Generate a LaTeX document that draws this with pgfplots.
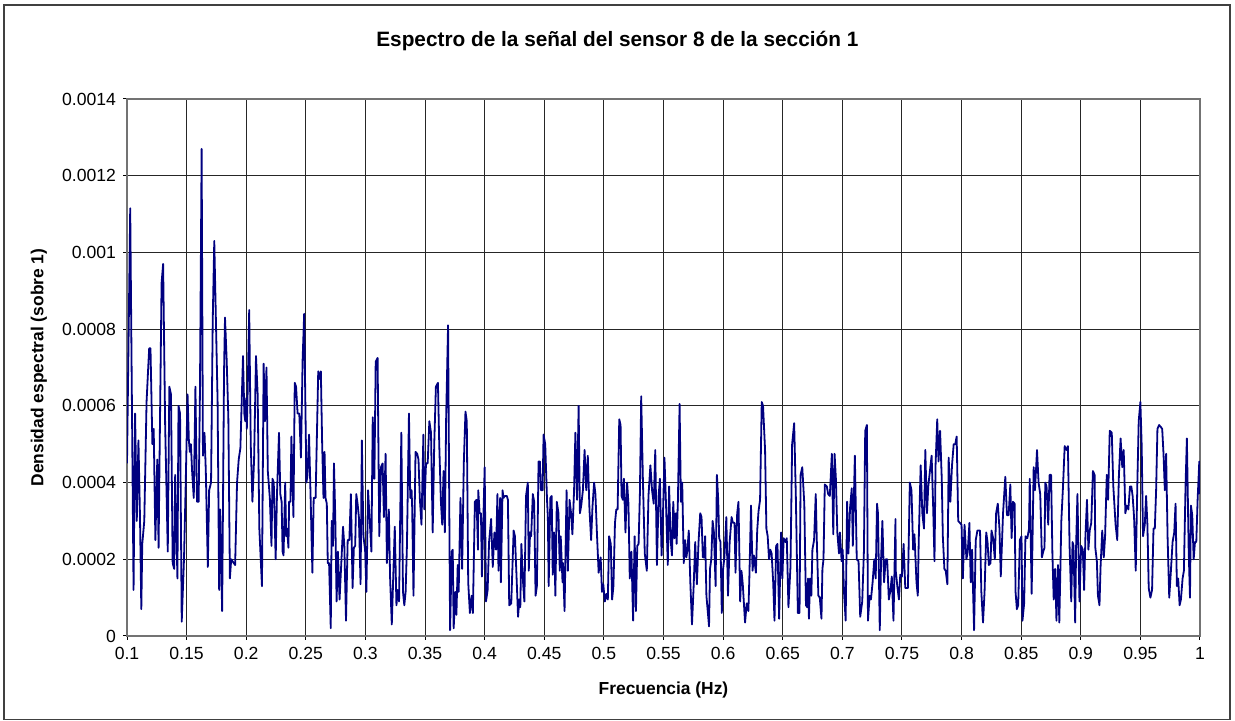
\documentclass[border=0pt]{standalone}
\usepackage{fontspec}
\setmainfont{Liberation Sans}
\usepackage{pgfplots}
\pgfplotsset{compat=1.18}
\definecolor{spec}{RGB}{0,0,128}

\begin{document}
\begin{tikzpicture}
% fixed bounding box, 1px = 0.5pt
\path (-63.5pt,-42pt) rectangle (554pt,318pt);
\draw[black!75, line width=0.8pt] (-61.5pt,-41.8pt) rectangle (551.5pt,315.6pt);
\begin{axis}[
  at={(0pt,0pt)}, anchor=south west,
  scale only axis, width=536.5pt, height=268.5pt,
  xmin=0.1, xmax=1, ymin=0, ymax=0.0014,
  xtick={0.1,0.15,...,1.0}, ytick={0,0.0002,...,0.0014},
  scaled x ticks=false, scaled y ticks=false,
  xticklabel style={/pgf/number format/.cd, fixed, precision=2, assume math mode=true},
  yticklabel style={/pgf/number format/.cd, fixed, precision=4, assume math mode=true},
  tick label style={font=\fontsize{8.8}{10}\selectfont},
  tick align=outside, tick pos=left, major tick length=2pt,
  tick style={black, line width=0.5pt},
  grid=major, grid style={black!85, line width=0.5pt},
  axis line style={black!55, line width=0.6pt},
  xlabel={\bfseries Frecuencia (Hz)}, ylabel={\bfseries Densidad espectral (sobre 1)},
  label style={font=\fontsize{8.7}{10}\selectfont},
  xlabel style={at={(axis description cs:0.5,0)}, anchor=center, yshift=-27pt},
  ylabel style={at={(axis description cs:0,0.5)}, anchor=center, yshift=44pt},
  title={\bfseries Espectro de la señal del sensor 8 de la sección 1},
  title style={font=\fontsize{10.4}{12}\selectfont, at={(axis description cs:0.457,1)}, anchor=center, yshift=23pt},
]
\addplot[spec, line width=0.9pt, line join=round] table {
0.1000 4.5e-4
0.1027 11.15e-4
0.1055 1.2e-4
0.1068 5.8e-4
0.1082 3.0e-4
0.1096 5.1e-4
0.1109 3.1e-4
0.1120 0.7e-4
0.1128 2.4e-4
0.1145 3.0e-4
0.1164 6.1e-4
0.1178 7.0e-4
0.1186 7.5e-4
0.1197 7.5e-4
0.1213 5.0e-4
0.1224 5.4e-4
0.1238 2.5e-4
0.1254 4.6e-4
0.1265 2.3e-4
0.1273 4.6e-4
0.1290 9.2e-4
0.1303 9.7e-4
0.1320 5.5e-4
0.1342 2.2e-4
0.1355 6.5e-4
0.1369 6.3e-4
0.1383 1.9e-4
0.1396 1.75e-4
0.1404 4.2e-4
0.1423 1.5e-4
0.1432 6.0e-4
0.1445 5.8e-4
0.1459 0.37e-4
0.1478 2.0e-4
0.1492 3.9e-4
0.1508 6.3e-4
0.1519 5.1e-4
0.1527 4.8e-4
0.1536 5.0e-4
0.1546 4.3e-4
0.1560 3.6e-4
0.1574 6.5e-4
0.1587 3.5e-4
0.1601 3.5e-4
0.1612 6.4e-4
0.1626 12.7e-4
0.1637 4.7e-4
0.1650 5.3e-4
0.1661 4.3e-4
0.1678 1.8e-4
0.1689 3.8e-4
0.1705 4.0e-4
0.1719 8.2e-4
0.1732 10.3e-4
0.1760 6.1e-4
0.1773 1.2e-4
0.1781 3.3e-4
0.1798 0.65e-4
0.1814 6.9e-4
0.1822 8.3e-4
0.1836 7.2e-4
0.1850 5.7e-4
0.1863 1.5e-4
0.1874 2.0e-4
0.1907 1.85e-4
0.1923 4.0e-4
0.1937 4.6e-4
0.1951 4.9e-4
0.1973 7.3e-4
0.1984 5.8e-4
0.1992 5.6e-4
0.2000 6.2e-4
0.2005 5.4e-4
0.2011 6.2e-4
0.2025 8.5e-4
0.2038 5.0e-4
0.2052 3.5e-4
0.2066 4.6e-4
0.2082 7.3e-4
0.2096 6.3e-4
0.2110 2.8e-4
0.2132 1.3e-4
0.2146 7.1e-4
0.2157 5.6e-4
0.2170 7.0e-4
0.2181 4.3e-4
0.2198 3.6e-4
0.2212 2.35e-4
0.2220 4.1e-4
0.2231 4.0e-4
0.2247 2.0e-4
0.2258 3.7e-4
0.2275 5.3e-4
0.2286 3.7e-4
0.2297 3.5e-4
0.2305 2.2e-4
0.2313 2.1e-4
0.2327 4.0e-4
0.2335 2.6e-4
0.2343 2.8e-4
0.2354 2.3e-4
0.2360 3.5e-4
0.2371 3.5e-4
0.2379 5.2e-4
0.2396 3.1e-4
0.2407 6.6e-4
0.2418 6.5e-4
0.2431 5.8e-4
0.2445 5.8e-4
0.2459 4.65e-4
0.2473 7.2e-4
0.2486 8.4e-4
0.2505 4.0e-4
0.2514 4.2e-4
0.2527 5.25e-4
0.2541 3.5e-4
0.2555 1.65e-4
0.2566 3.6e-4
0.2582 3.6e-4
0.2593 5.25e-4
0.2604 6.9e-4
0.2615 6.7e-4
0.2626 6.9e-4
0.2637 5.0e-4
0.2648 3.6e-4
0.2657 4.8e-4
0.2665 3.6e-4
0.2676 3.45e-4
0.2684 1.9e-4
0.2695 1.9e-4
0.2709 0.2e-4
0.2717 3.0e-4
0.2728 2.35e-4
0.2736 4.5e-4
0.2747 3.1e-4
0.2758 0.9e-4
0.2769 2.2e-4
0.2783 0.95e-4
0.2812 2.85e-4
0.2823 2.35e-4
0.2837 0.4e-4
0.2851 2.5e-4
0.2865 2.5e-4
0.2878 3.7e-4
0.2892 1.25e-4
0.2903 2.3e-4
0.2914 2.35e-4
0.2923 3.7e-4
0.2934 3.45e-4
0.2945 3.1e-4
0.2959 1.35e-4
0.2970 5.1e-4
0.2983 2.6e-4
0.2997 2.25e-4
0.3008 1.15e-4
0.3022 3.8e-4
0.3036 3.0e-4
0.3050 2.2e-4
0.3061 5.7e-4
0.3075 4.1e-4
0.3086 7.15e-4
0.3102 7.25e-4
0.3116 2.6e-4
0.3130 4.4e-4
0.3144 4.5e-4
0.3155 3.1e-4
0.3169 4.75e-4
0.3180 1.9e-4
0.3196 3.3e-4
0.3207 1.5e-4
0.3221 0.3e-4
0.3246 2.85e-4
0.3260 0.8e-4
0.3271 1.2e-4
0.3282 0.9e-4
0.3301 5.3e-4
0.3315 1.15e-4
0.3326 0.8e-4
0.3337 1.15e-4
0.3348 2.35e-4
0.3365 5.8e-4
0.3376 3.6e-4
0.3387 3.8e-4
0.3392 3.35e-4
0.3403 1.05e-4
0.3420 4.8e-4
0.3434 4.75e-4
0.3445 4.6e-4
0.3456 3.6e-4
0.3470 2.9e-4
0.3486 5.25e-4
0.3494 3.3e-4
0.3508 4.5e-4
0.3522 4.5e-4
0.3536 5.6e-4
0.3550 5.3e-4
0.3564 2.7e-4
0.3577 5.0e-4
0.3591 6.5e-4
0.3608 6.6e-4
0.3619 5.0e-4
0.3633 3.5e-4
0.3644 2.9e-4
0.3655 4.3e-4
0.3666 2.7e-4
0.3677 5.7e-4
0.3693 8.1e-4
0.3710 0.15e-4
0.3724 2.2e-4
0.3732 2.25e-4
0.3740 0.2e-4
0.3754 1.15e-4
0.3763 0.55e-4
0.3774 1.85e-4
0.3782 1.15e-4
0.3797 3.6e-4
0.3811 1.75e-4
0.3825 4.5e-4
0.3839 5.85e-4
0.3850 5.6e-4
0.3862 1.4e-4
0.3876 0.6e-4
0.3890 1.05e-4
0.3901 0.6e-4
0.3918 3.5e-4
0.3932 3.55e-4
0.3944 2.25e-4
0.3946 3.8e-4
0.3958 3.2e-4
0.3969 3.2e-4
0.3977 1.55e-4
0.4000 4.4e-4
0.4011 0.9e-4
0.4025 1.2e-4
0.4037 2.45e-4
0.4054 3.05e-4
0.4068 1.8e-4
0.4082 2.7e-4
0.4096 2.25e-4
0.4107 3.7e-4
0.4116 1.7e-4
0.4130 3.6e-4
0.4136 1.4e-4
0.4150 3.8e-4
0.4158 3.6e-4
0.4169 3.65e-4
0.4186 3.65e-4
0.4195 3.55e-4
0.4206 0.8e-4
0.4223 0.85e-4
0.4243 2.75e-4
0.4254 2.6e-4
0.4268 1.5e-4
0.4280 0.5e-4
0.4291 0.95e-4
0.4299 0.75e-4
0.4308 2.4e-4
0.4322 1.4e-4
0.4333 0.9e-4
0.4347 3.65e-4
0.4362 4.0e-4
0.4370 1.7e-4
0.4381 2.7e-4
0.4390 2.6e-4
0.4404 3.7e-4
0.4415 3.5e-4
0.4427 1.05e-4
0.4438 1.3e-4
0.4452 4.55e-4
0.4463 4.55e-4
0.4472 3.8e-4
0.4486 3.8e-4
0.4494 5.25e-4
0.4508 5.0e-4
0.4523 3.55e-4
0.4530 3.1e-4
0.4537 1.3e-4
0.4551 3.6e-4
0.4562 3.65e-4
0.4571 1.6e-4
0.4582 2.7e-4
0.4593 1.05e-4
0.4605 3.5e-4
0.4619 3.2e-4
0.4630 1.7e-4
0.4638 2.6e-4
0.4653 1.4e-4
0.4657 1.9e-4
0.4670 0.65e-4
0.4687 3.8e-4
0.4698 1.7e-4
0.4712 3.55e-4
0.4725 3.2e-4
0.4736 2.65e-4
0.4750 3.8e-4
0.4761 5.3e-4
0.4775 3.55e-4
0.4788 6.0e-4
0.4799 3.2e-4
0.4810 3.4e-4
0.4824 3.8e-4
0.4838 4.85e-4
0.4852 3.8e-4
0.4865 4.7e-4
0.4879 3.3e-4
0.4893 2.5e-4
0.4904 3.35e-4
0.4918 4.0e-4
0.4929 3.7e-4
0.4942 2.65e-4
0.4956 1.65e-4
0.4973 2.05e-4
0.4984 1.15e-4
0.4995 1.35e-4
0.5008 0.9e-4
0.5022 1.1e-4
0.5033 0.95e-4
0.5044 2.6e-4
0.5058 2.4e-4
0.5069 0.95e-4
0.5080 1.3e-4
0.5093 2.95e-4
0.5104 3.3e-4
0.5115 3.3e-4
0.5129 5.65e-4
0.5140 5.5e-4
0.5148 3.65e-4
0.5159 3.55e-4
0.5168 4.1e-4
0.5181 2.7e-4
0.5195 4.0e-4
0.5206 3.45e-4
0.5217 1.5e-4
0.5231 2.2e-4
0.5245 0.4e-4
0.5258 2.6e-4
0.5269 0.65e-4
0.5280 2.35e-4
0.5291 2.4e-4
0.5302 3.7e-4
0.5313 6.25e-4
0.5327 4.1e-4
0.5343 2.15e-4
0.5360 1.7e-4
0.5374 3.65e-4
0.5390 4.45e-4
0.5404 3.8e-4
0.5418 3.45e-4
0.5431 4.85e-4
0.5445 1.85e-4
0.5459 3.65e-4
0.5470 4.1e-4
0.5484 2.1e-4
0.5495 3.1e-4
0.5508 4.65e-4
0.5522 3.35e-4
0.5536 1.85e-4
0.5547 3.9e-4
0.5560 2.5e-4
0.5571 2.1e-4
0.5582 3.5e-4
0.5593 2.55e-4
0.5604 3.2e-4
0.5610 2.4e-4
0.5621 3.55e-4
0.5635 6.05e-4
0.5646 3.5e-4
0.5657 4.0e-4
0.5670 1.9e-4
0.5681 2.5e-4
0.5692 2.05e-4
0.5701 2.25e-4
0.5712 2.75e-4
0.5725 1.4e-4
0.5739 0.3e-4
0.5753 1.3e-4
0.5766 2.45e-4
0.5780 1.35e-4
0.5794 2.45e-4
0.5808 3.2e-4
0.5819 3.1e-4
0.5830 2.05e-4
0.5841 2.05e-4
0.5849 2.6e-4
0.5860 1.05e-4
0.5871 0.65e-4
0.5882 0.25e-4
0.5890 1.75e-4
0.5901 2.0e-4
0.5912 3.0e-4
0.5923 2.7e-4
0.5937 1.3e-4
0.5948 4.2e-4
0.5959 3.55e-4
0.5967 2.55e-4
0.5978 2.45e-4
0.5989 0.6e-4
0.6000 1.75e-4
0.6011 2.05e-4
0.6027 3.1e-4
0.6041 1.05e-4
0.6055 2.45e-4
0.6071 3.1e-4
0.6082 2.95e-4
0.6096 2.95e-4
0.6104 1.65e-4
0.6118 3.2e-4
0.6129 3.5e-4
0.6143 0.9e-4
0.6154 1.7e-4
0.6165 1.35e-4
0.6184 0.35e-4
0.6198 0.85e-4
0.6212 0.65e-4
0.6220 1.5e-4
0.6234 3.4e-4
0.6247 1.7e-4
0.6258 2.1e-4
0.6275 1.65e-4
0.6286 2.75e-4
0.6297 3.25e-4
0.6310 3.55e-4
0.6324 6.1e-4
0.6335 6.0e-4
0.6352 4.85e-4
0.6363 2.8e-4
0.6374 2.6e-4
0.6385 2.0e-4
0.6396 2.25e-4
0.6407 2.15e-4
0.6420 1.4e-4
0.6431 0.4e-4
0.6445 2.35e-4
0.6456 2.4e-4
0.6470 0.45e-4
0.6486 2.7e-4
0.6497 1.5e-4
0.6508 2.55e-4
0.6523 2.45e-4
0.6534 2.55e-4
0.6548 0.75e-4
0.6565 1.8e-4
0.6579 5.0e-4
0.6596 5.55e-4
0.6610 3.65e-4
0.6627 0.6e-4
0.6641 0.6e-4
0.6650 4.2e-4
0.6664 4.4e-4
0.6681 3.45e-4
0.6695 0.8e-4
0.6706 0.75e-4
0.6712 1.5e-4
0.6720 0.45e-4
0.6729 1.5e-4
0.6740 1.05e-4
0.6749 2.25e-4
0.6763 2.5e-4
0.6777 3.7e-4
0.6785 2.6e-4
0.6799 1.05e-4
0.6811 1.0e-4
0.6825 0.45e-4
0.6833 1.75e-4
0.6842 2.0e-4
0.6853 3.95e-4
0.6870 3.9e-4
0.6881 3.7e-4
0.6895 3.65e-4
0.6912 4.75e-4
0.6924 2.65e-4
0.6935 4.75e-4
0.6946 4.1e-4
0.6958 2.7e-4
0.6972 2.15e-4
0.6980 2.7e-4
0.6994 1.95e-4
0.7003 2.25e-4
0.7014 1.15e-4
0.7028 0.4e-4
0.7040 3.5e-4
0.7051 2.15e-4
0.7065 3.35e-4
0.7079 3.85e-4
0.7088 2.35e-4
0.7105 4.7e-4
0.7121 2.0e-4
0.7136 1.95e-4
0.7150 0.5e-4
0.7167 0.9e-4
0.7181 2.2e-4
0.7192 5.35e-4
0.7206 5.5e-4
0.7215 0.4e-4
0.7229 1.05e-4
0.7240 0.95e-4
0.7254 1.4e-4
0.7268 2.0e-4
0.7280 1.5e-4
0.7291 3.45e-4
0.7299 3.2e-4
0.7314 0.15e-4
0.7325 2.0e-4
0.7336 3.0e-4
0.7350 1.4e-4
0.7364 2.0e-4
0.7376 2.0e-4
0.7390 0.95e-4
0.7404 1.2e-4
0.7415 1.55e-4
0.7429 0.4e-4
0.7446 3.05e-4
0.7448 1.7e-4
0.7461 1.3e-4
0.7475 0.95e-4
0.7486 1.6e-4
0.7500 1.55e-4
0.7514 2.4e-4
0.7528 1.25e-4
0.7550 1.25e-4
0.7566 4.0e-4
0.7580 3.8e-4
0.7594 2.25e-4
0.7605 2.65e-4
0.7622 1.4e-4
0.7633 1.05e-4
0.7641 2.5e-4
0.7657 4.45e-4
0.7671 3.2e-4
0.7685 2.8e-4
0.7696 4.85e-4
0.7710 3.2e-4
0.7721 3.9e-4
0.7738 4.4e-4
0.7749 4.7e-4
0.7762 3.35e-4
0.7773 1.95e-4
0.7782 4.45e-4
0.7796 5.65e-4
0.7807 4.55e-4
0.7820 5.35e-4
0.7834 4.1e-4
0.7843 2.6e-4
0.7856 1.75e-4
0.7867 1.7e-4
0.7881 1.35e-4
0.7892 4.65e-4
0.7906 3.5e-4
0.7920 4.45e-4
0.7934 5.0e-4
0.7947 5.0e-4
0.7959 5.2e-4
0.7972 3.0e-4
0.7986 2.95e-4
0.8000 2.9e-4
0.8011 1.5e-4
0.8025 2.9e-4
0.8041 2.0e-4
0.8052 2.2e-4
0.8066 2.95e-4
0.8077 1.4e-4
0.8088 2.25e-4
0.8105 0.15e-4
0.8119 2.5e-4
0.8133 2.75e-4
0.8155 2.75e-4
0.8166 1.15e-4
0.8180 0.35e-4
0.8193 1.15e-4
0.8207 2.7e-4
0.8218 2.45e-4
0.8229 1.85e-4
0.8243 1.9e-4
0.8251 2.75e-4
0.8265 2.55e-4
0.8279 2.0e-4
0.8290 3.2e-4
0.8304 3.45e-4
0.8318 2.8e-4
0.8329 1.55e-4
0.8348 3.2e-4
0.8367 4.15e-4
0.8381 3.15e-4
0.8395 3.15e-4
0.8409 3.95e-4
0.8420 2.55e-4
0.8431 3.5e-4
0.8445 3.45e-4
0.8453 1.15e-4
0.8464 0.7e-4
0.8475 0.8e-4
0.8489 2.5e-4
0.8503 2.6e-4
0.8511 0.4e-4
0.8525 0.85e-4
0.8536 2.6e-4
0.8552 2.55e-4
0.8566 2.8e-4
0.8572 4.1e-4
0.8588 1.1e-4
0.8605 4.4e-4
0.8616 3.8e-4
0.8633 4.85e-4
0.8646 4.0e-4
0.8660 3.7e-4
0.8674 2.05e-4
0.8685 2.2e-4
0.8696 2.3e-4
0.8702 4.0e-4
0.8713 3.9e-4
0.8727 2.9e-4
0.8738 4.2e-4
0.8751 4.2e-4
0.8762 2.15e-4
0.8773 0.95e-4
0.8785 1.75e-4
0.8796 0.4e-4
0.8809 1.85e-4
0.8820 0.35e-4
0.8837 3.0e-4
0.8851 3.9e-4
0.8865 4.95e-4
0.8881 4.85e-4
0.8892 4.95e-4
0.8906 2.35e-4
0.8920 0.9e-4
0.8931 2.45e-4
0.8939 2.35e-4
0.8953 0.35e-4
0.8961 2.35e-4
0.8972 3.7e-4
0.8989 0.9e-4
0.9003 2.35e-4
0.9017 2.25e-4
0.9028 1.2e-4
0.9039 2.6e-4
0.9052 3.55e-4
0.9064 2.25e-4
0.9075 2.75e-4
0.9088 2.95e-4
0.9102 4.3e-4
0.9116 4.2e-4
0.9122 2.3e-4
0.9135 1.95e-4
0.9144 1.05e-4
0.9157 0.8e-4
0.9166 1.8e-4
0.9180 2.75e-4
0.9193 2.05e-4
0.9204 2.6e-4
0.9218 4.2e-4
0.9229 3.55e-4
0.9243 5.35e-4
0.9260 5.3e-4
0.9273 3.9e-4
0.9292 2.9e-4
0.9306 2.5e-4
0.9320 4.2e-4
0.9334 5.15e-4
0.9348 4.4e-4
0.9360 4.85e-4
0.9374 3.2e-4
0.9385 3.4e-4
0.9399 3.3e-4
0.9413 3.9e-4
0.9424 3.9e-4
0.9435 3.65e-4
0.9447 3.1e-4
0.9461 1.7e-4
0.9475 4.05e-4
0.9486 5.6e-4
0.9500 6.1e-4
0.9511 4.95e-4
0.9522 2.6e-4
0.9537 2.9e-4
0.9548 3.65e-4
0.9559 2.9e-4
0.9570 1.25e-4
0.9584 1.0e-4
0.9598 1.2e-4
0.9610 2.8e-4
0.9621 2.8e-4
0.9632 3.8e-4
0.9643 5.4e-4
0.9657 5.5e-4
0.9671 5.45e-4
0.9683 5.4e-4
0.9694 4.75e-4
0.9705 3.8e-4
0.9716 4.75e-4
0.9728 2.6e-4
0.9742 1.0e-4
0.9756 1.7e-4
0.9770 2.45e-4
0.9784 2.7e-4
0.9795 3.45e-4
0.9806 1.3e-4
0.9817 1.5e-4
0.9829 0.8e-4
0.9840 0.95e-4
0.9854 1.5e-4
0.9865 1.7e-4
0.9879 3.95e-4
0.9890 5.15e-4
0.9905 2.25e-4
0.9916 1.0e-4
0.9924 3.4e-4
0.9935 3.15e-4
0.9947 2.0e-4
0.9958 2.45e-4
0.9969 2.45e-4
0.9980 3.55e-4
0.9994 4.55e-4
1.0000 3.7e-4
};
\end{axis}
\end{tikzpicture}
\end{document}
